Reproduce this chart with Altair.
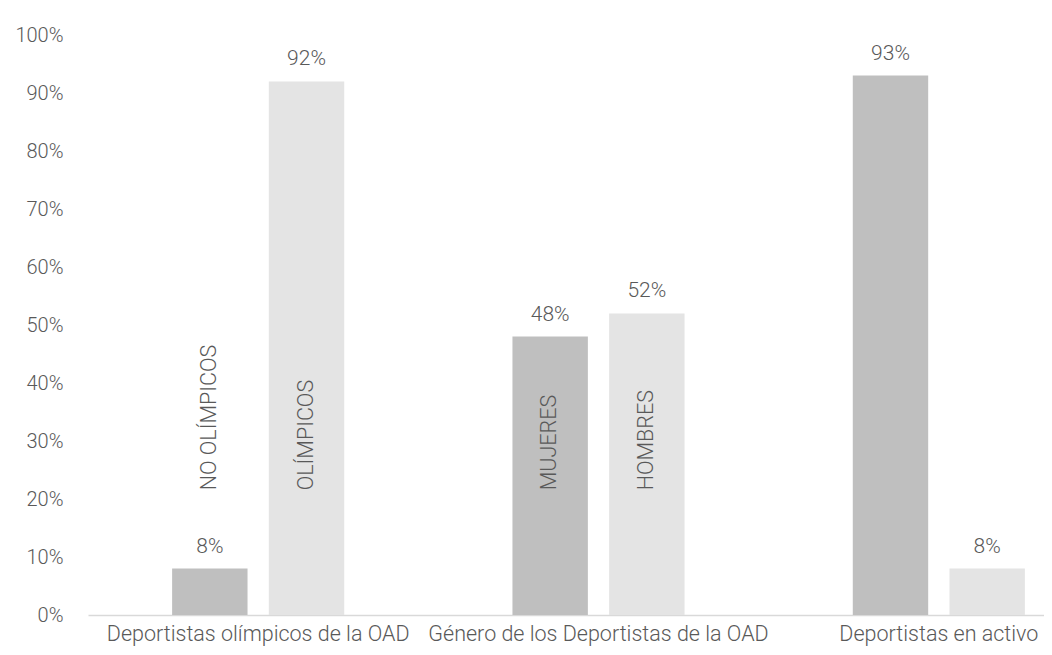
import altair as alt
import pandas as pd

groups = ["Deportistas olímpicos de la OAD", "Género de los Deportistas de la OAD", "Deportistas en activo"]
series = ["serie1", "serie2"]
values_s1 = [8, 48, 93]
values_s2 = [92, 52, 8]
inner_s1 = ["NO OLÍMPICOS", "MUJERES", ""]
inner_s2 = ["OLÍMPICOS", "HOMBRES", ""]
y_ticks = [0, 10, 20, 30, 40, 50, 60, 70, 80, 90, 100]

rows = []
for i, g in enumerate(groups):
    rows.append({"grupo": g, "serie": series[0], "valor": values_s1[i], "etiqueta": inner_s1[i]})
    rows.append({"grupo": g, "serie": series[1], "valor": values_s2[i], "etiqueta": inner_s2[i]})
df = pd.DataFrame(rows)
df["texto"] = df["valor"].astype(str) + "%"

FONT = "Roboto"
TXT = "#595959"

x_enc = alt.X("grupo:N", sort=groups, title=None,
              scale=alt.Scale(range=[0, 1021], paddingInner=0, paddingOuter=0),
              axis=alt.Axis(labelAngle=0, labelFontSize=21.5, labelColor=TXT, labelFont=FONT,
                            labelFontWeight=300, ticks=False, tickSize=0, labelPadding=8,
                            labelLimit=0, labelOverlap=False,
                            domainColor="#d9d9d9", domainWidth=1.5, grid=False))
xo_enc = alt.XOffset("serie:N", sort=series,
                     scale=alt.Scale(paddingInner=0.22, paddingOuter=0.87))
y_enc = alt.Y("valor:Q", title=None,
              scale=alt.Scale(domain=[0, 100], nice=False),
              axis=alt.Axis(values=y_ticks, labelExpr="datum.value + '%'", labelFontSize=20,
                            labelColor=TXT, labelFont=FONT, labelFontWeight=300, ticks=False,
                            tickSize=0, labelPadding=25, domain=False, grid=False))

base = alt.Chart(df)

bars = base.mark_bar().encode(
    x=x_enc, xOffset=xo_enc, y=y_enc,
    color=alt.Color("serie:N", scale=alt.Scale(domain=series, range=["#bfbfbf", "#e4e4e4"]), legend=None),
)

vals = base.mark_text(fontSize=21, font=FONT, fontWeight=300, color=TXT, dy=-22, baseline="middle").encode(
    x=x_enc, xOffset=xo_enc, y=y_enc, text="texto:N"
)

inner = base.transform_filter("datum.etiqueta != ''").mark_text(
    fontSize=21.5, font=FONT, fontWeight=300, color=TXT, angle=270, align="left", baseline="middle"
).encode(
    x=x_enc, xOffset=xo_enc, y=alt.datum(21.5), text="etiqueta:N"
)

chart = alt.layer(bars, vals, inner).properties(
    width=956, height=580,
    background="white",
    autosize=alt.AutoSizeParams(type="none"),
    padding={"left": 80, "top": 27, "right": 0, "bottom": 32},
).configure_view(stroke=None)

chart.save("out.html", embed_options={"renderer": "svg", "actions": False})
